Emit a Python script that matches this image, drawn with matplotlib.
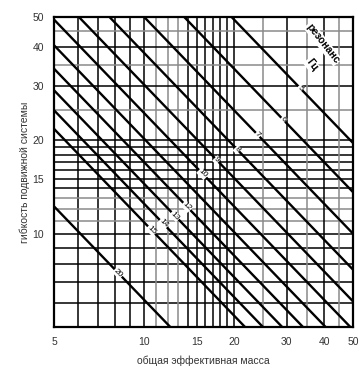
import numpy as np
import matplotlib
matplotlib.use("Agg")
import matplotlib.pyplot as plt

plt.rcParams['font.family'] = ['Liberation Sans', 'DejaVu Sans']

# resonance lines, Hz
freqs = [5, 6, 7, 8, 9, 10, 11, 12, 13, 14, 15, 20]
# product mass * compliance giving f = 1 Hz
mc_const = 24500.0

# labelled lines and the mass where the label sits
label_freqs = [5, 6, 7, 8, 9, 10, 12, 13, 14, 15, 20]
label_mass = [33.3, 29.2, 24.0, 20.5, 17.5, 15.7, 13.9, 12.7, 11.6, 10.6, 8.2]

grid_vals = [6, 7, 8, 9, 10, 11, 12, 13, 14, 15, 16, 17, 18, 19, 20, 25, 30, 35, 40, 45]
grid_gray = [11, 12, 13, 25, 35, 45]

x_ticks = [5, 10, 15, 20, 30, 40, 50]
y_ticks = [10, 15, 20, 30, 40, 50]

fig = plt.figure(figsize=(3.61, 3.83), dpi=100)
ax = fig.add_axes([0.1496, 0.146, 0.8284, 0.810])
ax.set_xscale('log')
ax.set_yscale('log')
ax.set_xlim(5, 50)
ax.set_ylim(5, 50)

for v in grid_vals:
    c = '#8a8a8a' if v in grid_gray else 'black'
    ax.axvline(v, color=c, lw=1.1, zorder=1)
    ax.axhline(v, color=c, lw=1.1, zorder=1)

m = np.geomspace(5, 50, 200)
for f in freqs:
    ax.plot(m, mc_const / (m * f ** 2), color='black', lw=1.7, zorder=2)

for f, xm in zip(label_freqs, label_mass):
    ax.text(xm, mc_const / (xm * f ** 2), str(f), fontsize=6, rotation=-45,
            ha='center', va='center', zorder=3,
            bbox=dict(facecolor='white', edgecolor='none', pad=0.3))

ax.text(39.6, 41.0, 'резонанс', fontsize=7.5, fontweight='bold', rotation=-52,
        ha='center', va='center', zorder=3,
        bbox=dict(facecolor='white', edgecolor='none', pad=0.5))
ax.text(36.3, 35.0, 'Гц', fontsize=7.5, fontweight='bold', rotation=-52,
        ha='center', va='center', zorder=3,
        bbox=dict(facecolor='white', edgecolor='none', pad=0.5))

ax.set_xticks(x_ticks)
ax.set_xticklabels([str(t) for t in x_ticks])
ax.set_yticks(y_ticks)
ax.set_yticklabels([str(t) for t in y_ticks])
ax.minorticks_off()
ax.tick_params(length=0, labelsize=7.5, pad=7, colors='#333333')
for s in ax.spines.values():
    s.set_linewidth(1.6)
    s.set_zorder(4)

ax.set_xlabel('общая эффективная масса', fontsize=7.5, color='#333333', labelpad=6)
ax.set_ylabel('гибкость подвижной системы', fontsize=7.5, color='#333333', labelpad=2)

fig.savefig('out.png', dpi=100)
